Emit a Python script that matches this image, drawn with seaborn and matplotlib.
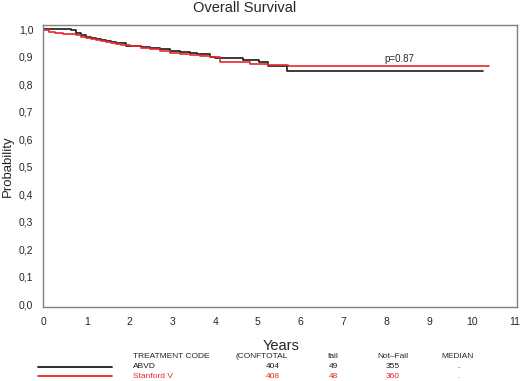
import matplotlib
matplotlib.use("Agg")
import matplotlib.pyplot as plt
import seaborn as sns
import pandas as pd
from matplotlib.lines import Line2D

# Kaplan-Meier step points
abvd_t = [0.0, 0.40, 0.63, 0.75, 0.86, 0.98, 1.09, 1.21, 1.33, 1.45, 1.56, 1.68, 1.79, 1.91, 2.02, 2.26, 2.49, 2.72, 2.95, 3.18, 3.42, 3.58, 3.88, 4.0, 4.65, 5.02, 5.23, 5.67, 10.26]
abvd_s = [1.0, 0.999, 0.997, 0.987, 0.977, 0.971, 0.967, 0.964, 0.961, 0.958, 0.955, 0.951, 0.948, 0.939, 0.938, 0.934, 0.932, 0.927, 0.922, 0.918, 0.913, 0.910, 0.897, 0.894, 0.888, 0.880, 0.867, 0.847, 0.847]
stan_t = [0.0, 0.12, 0.26, 0.45, 0.63, 0.75, 0.86, 0.98, 1.09, 1.21, 1.33, 1.45, 1.56, 1.68, 1.79, 2.02, 2.26, 2.49, 2.72, 2.95, 3.18, 3.42, 3.65, 3.88, 4.12, 4.81, 5.23, 5.70, 10.40]
stan_s = [0.996, 0.991, 0.987, 0.984, 0.981, 0.977, 0.973, 0.968, 0.964, 0.961, 0.958, 0.955, 0.951, 0.946, 0.942, 0.937, 0.933, 0.929, 0.921, 0.914, 0.911, 0.907, 0.902, 0.897, 0.879, 0.873, 0.870, 0.867, 0.867]

groups = ["ABVD", "Stanford V"]
totals = [404, 408]
fails = [49, 48]
not_fails = [355, 360]
medians = [".", "."]
colors = {"ABVD": "#1a1a1a", "Stanford V": "#e8262b"}

x_ticks = list(range(0, 12))
y_ticks = [i / 10 for i in range(0, 11)]
y_labels = [f"{v:.1f}".replace(".", ",") for v in y_ticks]

df = pd.concat([
    pd.DataFrame({"Years": abvd_t, "Probability": abvd_s, "group": "ABVD"}),
    pd.DataFrame({"Years": stan_t, "Probability": stan_s, "group": "Stanford V"}),
])

sns.set_style("white")
plt.rcParams["font.family"] = ["Liberation Sans", "DejaVu Sans"]

fig = plt.figure(figsize=(5.2, 3.81), dpi=100)
ax = fig.add_axes([43 / 520, 1 - 307 / 381, 474 / 520, 282 / 381])

sns.lineplot(data=df, x="Years", y="Probability", hue="group", palette=colors,
             drawstyle="steps-post", linewidth=1.2, legend=False, ax=ax, estimator=None)

ax.set_xlim(-0.02, 11.05)
ax.set_ylim(-0.01, 1.015)
ax.set_xticks(x_ticks)
ax.set_xticklabels([str(t) for t in x_ticks], fontsize=7.5)
ax.set_yticks(y_ticks)
ax.set_yticklabels(y_labels, fontsize=7.5)
ax.tick_params(axis="both", direction="out", length=3, width=0.8, color="#555555", pad=4)
for sp in ax.spines.values():
    sp.set_color("#808080")
    sp.set_linewidth(1.0)
ax.set_xlabel("")
ax.set_ylabel("")

fig.text(245 / 520, 1 - 8 / 381, "Overall Survival", fontsize=10.5, ha="center", va="center")
fig.text(8 / 520, 1 - 166 / 381, "Probability", fontsize=9.5, rotation=90, ha="center", va="center")
fig.text(281 / 520, 1 - 346 / 381, "Years", fontsize=10.5, ha="center", va="center")
ax.text(8.3, 0.872, "p=0.87", fontsize=7, ha="center", va="bottom")

# table below
def fx(px):
    return px / 520

def fy(py):
    return 1 - py / 381

fs = 6
fig.text(fx(133), fy(356), "TREATMENT CODE", fontsize=fs, va="center", ha="left")
fig.text(fx(235), fy(356), "(CONFTOTAL", fontsize=fs, va="center", ha="left")
fig.text(fx(333), fy(356), "fail", fontsize=fs, va="center", ha="center")
fig.text(fx(393), fy(356), "Not\u2013Fail", fontsize=fs, va="center", ha="center")
fig.text(fx(457), fy(356), "MEDIAN", fontsize=fs, va="center", ha="center")

row_y = [367, 376]
for i, g in enumerate(groups):
    c = colors[g]
    y = row_y[i]
    fig.add_artist(Line2D([fx(38), fx(112)], [fy(y - 0.5), fy(y - 0.5)], color=c, linewidth=1.3,
                          transform=fig.transFigure))
    fig.text(fx(133), fy(y), g, fontsize=fs, va="center", ha="left", color=c)
    fig.text(fx(273), fy(y), str(totals[i]), fontsize=fs, va="center", ha="center", color=c)
    fig.text(fx(333), fy(y), str(fails[i]), fontsize=fs, va="center", ha="center", color=c)
    fig.text(fx(393), fy(y), str(not_fails[i]), fontsize=fs, va="center", ha="center", color=c)
    fig.text(fx(458), fy(y), medians[i], fontsize=fs, va="center", ha="center", color=c)

fig.savefig("out.png", dpi=100)
